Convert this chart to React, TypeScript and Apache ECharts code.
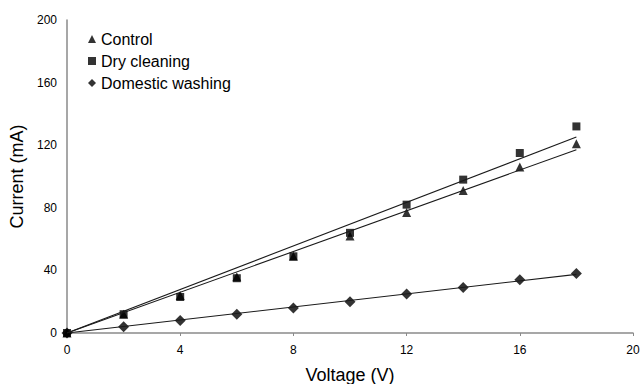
import React, { useEffect, useRef } from "react";
import * as echarts from "echarts";

const voltage = [0, 2, 4, 6, 8, 10, 12, 14, 16, 18];
const control = [0, 12, 24, 36, 49, 62, 77, 91, 106, 121];
const dryCleaning = [0, 12, 23, 35, 49, 64, 82, 98, 115, 132];
const domesticWashing = [0, 4, 8, 12, 16, 20, 25, 29, 34, 38];
const xTicks = [0, 4, 8, 12, 16, 20];
const yTicks = [0, 40, 80, 120, 160, 200];

// Least-squares trend line through the origin, as fitted in the source chart
function fitLine(xs: number[], ys: number[]) {
  let sxy = 0;
  let sxx = 0;
  xs.forEach((x, i) => {
    sxy += x * ys[i];
    sxx += x * x;
  });
  const k = sxy / sxx;
  const xEnd = xs[xs.length - 1];
  return [
    [xs[0], k * xs[0]],
    [xEnd, k * xEnd],
  ];
}

const pairs = (ys: number[]) => voltage.map((x, i) => [x, ys[i]]);

export default function App() {
  const ref = useRef<HTMLDivElement>(null);
  useEffect(() => {
    if (!ref.current) return;
    const chart = echarts.init(ref.current, null, { renderer: "svg" });
    const font = "'Liberation Sans', Arial, sans-serif";
    const lineStyle = { color: "#1a1a1a", width: 1.1 };
    chart.setOption({
      animation: false,
      backgroundColor: "#ffffff",
      textStyle: { fontFamily: font, color: "#000" },
      grid: {
        left: 67,
        right: 7,
        top: 20,
        bottom: 51,
        outerBoundsMode: "none",
        containLabel: false,
      },
      legend: {
        orient: "vertical",
        left: 88,
        top: 31,
        padding: 0,
        itemWidth: 8,
        itemHeight: 8,
        itemGap: 6,
        data: ["Control", "Dry cleaning", "Domestic washing"],
        textStyle: { fontSize: 16, color: "#000", fontFamily: font },
      },
      xAxis: {
        type: "value",
        min: xTicks[0],
        max: xTicks[xTicks.length - 1],
        interval: 4,
        name: "Voltage (V)",
        nameLocation: "middle",
        nameGap: 33,
        nameTextStyle: { fontSize: 18, color: "#000", fontFamily: font },
        axisLine: { lineStyle: { color: "#8a8a8a", width: 1.5 } },
        axisTick: { show: true, length: 3, lineStyle: { color: "#8a8a8a" } },
        axisLabel: { fontSize: 12, color: "#000", margin: 11 },
        splitLine: { show: false },
      },
      yAxis: {
        type: "value",
        min: yTicks[0],
        max: yTicks[yTicks.length - 1],
        interval: 40,
        name: "Current (mA)",
        nameLocation: "middle",
        nameGap: 40,
        nameTextStyle: { fontSize: 18, color: "#000", fontFamily: font },
        axisLine: { show: true, lineStyle: { color: "#8a8a8a", width: 1.5 } },
        axisTick: { show: false },
        axisLabel: { fontSize: 12, color: "#000", margin: 10 },
        splitLine: { show: false },
      },
      series: [
        {
          name: "Domestic washing fit",
          type: "line",
          data: fitLine(voltage, domesticWashing),
          showSymbol: false,
          lineStyle,
          silent: true,
        },
        {
          name: "Control fit",
          type: "line",
          data: fitLine(voltage, control),
          showSymbol: false,
          lineStyle,
          silent: true,
        },
        {
          name: "Dry cleaning fit",
          type: "line",
          data: fitLine(voltage, dryCleaning),
          showSymbol: false,
          lineStyle,
          silent: true,
        },
        {
          name: "Domestic washing",
          type: "scatter",
          symbol: "diamond",
          symbolSize: 11,
          itemStyle: { color: "#000" },
          data: pairs(domesticWashing),
        },
        {
          name: "Control",
          type: "scatter",
          symbol: "triangle",
          symbolSize: 9,
          itemStyle: { color: "#000" },
          data: pairs(control),
        },
        {
          name: "Dry cleaning",
          type: "scatter",
          symbol: "rect",
          symbolSize: 8,
          itemStyle: { color: "#000" },
          data: pairs(dryCleaning),
        },
      ],
    });
    return () => chart.dispose();
  }, []);
  return (
    <div
      ref={ref}
      style={{ position: "fixed", left: 0, top: 0, width: 640, height: 384 }}
    />
  );
}
